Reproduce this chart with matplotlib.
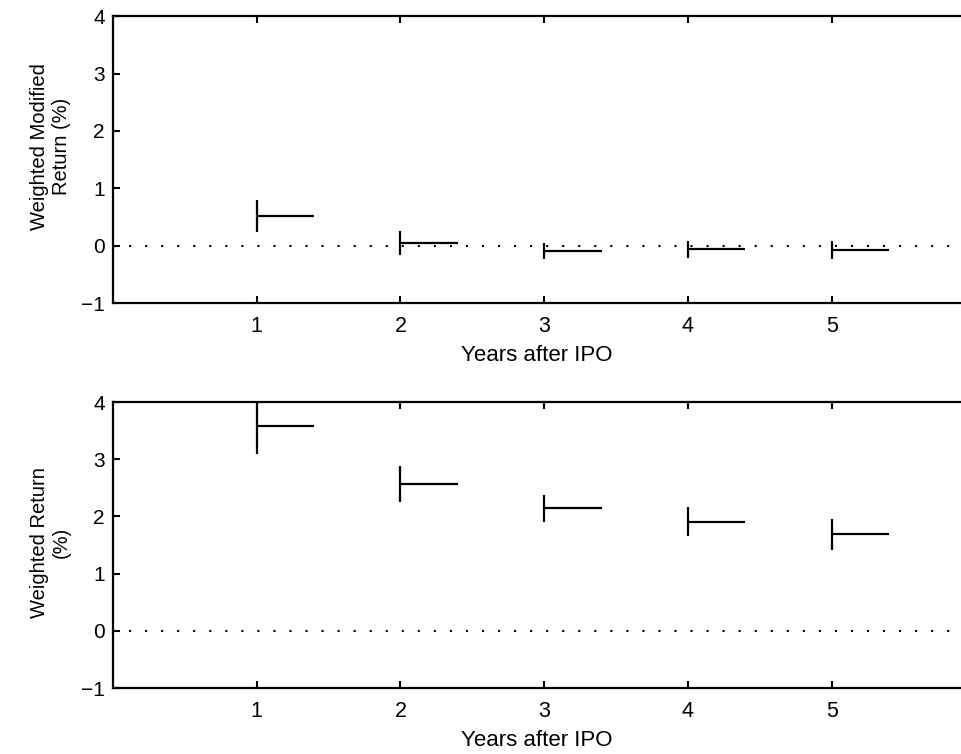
import matplotlib
matplotlib.use("Agg")
import matplotlib.pyplot as plt

# years after IPO, mean return and interval ends
years = [1, 2, 3, 4, 5]

mod_mean = [0.52, 0.05, -0.09, -0.06, -0.07]
mod_lo = [0.24, -0.17, -0.24, -0.21, -0.23]
mod_hi = [0.80, 0.25, 0.05, 0.09, 0.09]

ret_mean = [3.58, 2.57, 2.14, 1.91, 1.69]
ret_lo = [3.09, 2.25, 1.90, 1.66, 1.41]
ret_hi = [4.05, 2.89, 2.38, 2.16, 1.96]

ylabels = ["Weighted Modified\nReturn (%)", "Weighted Return\n(%)"]

plt.rcParams["font.family"] = ["Liberation Sans", "DejaVu Sans"]
plt.rcParams["font.size"] = 14

fig = plt.figure(figsize=(9.61, 7.54), dpi=100)
ax1 = fig.add_axes([0.1176, 0.598, 0.8824, 0.3806])
ax2 = fig.add_axes([0.1176, 0.0875, 0.8824, 0.3793])

for ax, mean, lo, hi, lab, ly in [(ax1, mod_mean, mod_lo, mod_hi, ylabels[0], 0.545),
                                  (ax2, ret_mean, ret_lo, ret_hi, ylabels[1], 0.51)]:
    ax.axhline(0, color="black", lw=1.5, linestyle=(0, (1, 6.7)))
    ax.vlines(years, lo, hi, color="black", lw=1.6)
    ax.hlines(mean, years, [y + 0.4 for y in years], color="black", lw=1.6)
    ax.set_xlim(0, 5.9)
    ax.set_ylim(-1, 4)
    ax.set_xticks(years)
    ax.set_yticks([-1, 0, 1, 2, 3, 4])
    ax.set_yticklabels(["\u22121", "0", "1", "2", "3", "4"])
    ax.tick_params(direction="in", length=5, width=1.5, top=True, right=False)
    ax.tick_params(axis="x", pad=9, labelsize=15.5)
    ax.tick_params(axis="y", pad=6, labelsize=15)
    for s in ax.spines.values():
        s.set_linewidth(1.6)
    ax.spines["right"].set_visible(False)
    ax.set_xlabel("Years after IPO", labelpad=6, fontsize=16)
    ax.set_ylabel(lab, fontsize=14.5)
    ax.yaxis.set_label_coords(-0.05, ly)

fig.savefig("out.png", dpi=100)
